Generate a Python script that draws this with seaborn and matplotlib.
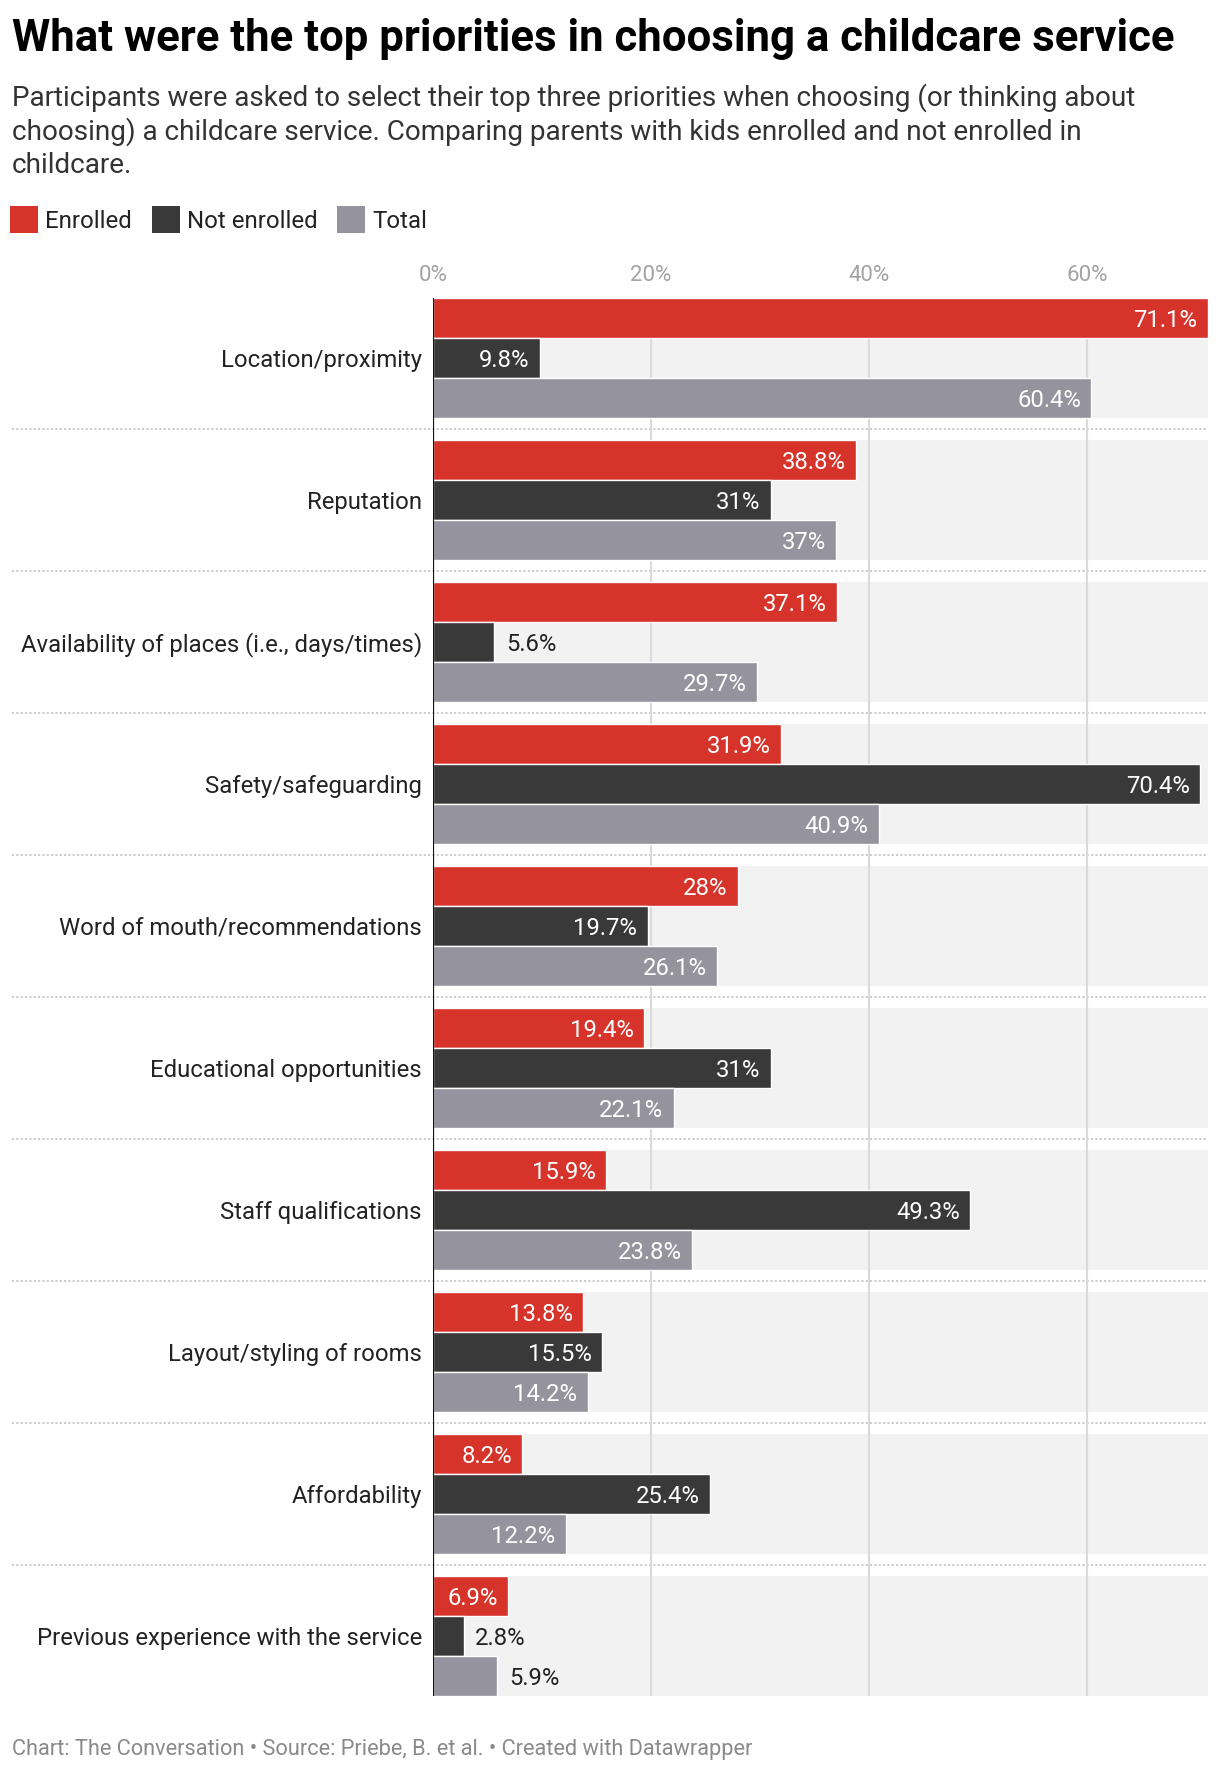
import matplotlib
matplotlib.use('Agg')
import matplotlib.pyplot as plt
from matplotlib.patches import Rectangle
import pandas as pd
import seaborn as sns

categories = ['Location/proximity', 'Reputation', 'Availability of places (i.e., days/times)',
              'Safety/safeguarding', 'Word of mouth/recommendations', 'Educational opportunities',
              'Staff qualifications', 'Layout/styling of rooms', 'Affordability',
              'Previous experience with the service']
enrolled = [71.1, 38.8, 37.1, 31.9, 28, 19.4, 15.9, 13.8, 8.2, 6.9]
not_enrolled = [9.8, 31, 5.6, 70.4, 19.7, 31, 49.3, 15.5, 25.4, 2.8]
total = [60.4, 37, 29.7, 40.9, 26.1, 22.1, 23.8, 14.2, 12.2, 5.9]
series = ['Enrolled', 'Not enrolled', 'Total']
colors = ['#d6342b', '#393939', '#94939e']
ticks = [0, 20, 40, 60]

df = pd.DataFrame({
    'category': categories * 3,
    'group': [s for s in series for _ in categories],
    'value': enrolled + not_enrolled + total,
})

sns.set_style('white')
plt.rcParams['font.family'] = ['Roboto', 'DejaVu Sans']

W, H = 1220, 1772
fig = plt.figure(figsize=(W / 100, H / 100), dpi=100)
ax = fig.add_axes([433 / W, 1 - 1696 / H, (1208 - 433) / W, (1696 - 298) / H])

band = 0.845
sns.barplot(data=df, x='value', y='category', hue='group', palette=colors,
            width=band, orient='h', ax=ax, legend=False, saturation=1, zorder=3)

n = len(categories)
ax.set_ylim(n - 1 + band / 2, -band / 2)
ax.set_xlim(0, max(enrolled + not_enrolled + total))

# grey bands behind each group, dotted separators between them
for i in range(n):
    ax.axhspan(i - band / 2, i + band / 2, color='#f2f2f2', zorder=0, lw=0)
for i in range(n - 1):
    ax.plot([-(433 - 12) / (1208 - 433), 1], [i + 0.5, i + 0.5],
            transform=ax.get_yaxis_transform(), color='#c8c8c8', lw=1.3,
            ls=(0, (1.2, 1.2)), clip_on=False, zorder=1)
for t in ticks[1:]:
    ax.axvline(t, color='#dadada', lw=1.5, zorder=1)
ax.axvline(0, color='#111111', lw=1.6, zorder=4)

for sp in ax.spines.values():
    sp.set_visible(False)

ax.xaxis.set_ticks_position('top')
ax.set_xticks(ticks)
ax.set_xticklabels([f'{t}%' for t in ticks])
ax.tick_params(axis='x', length=0, pad=8.5, labelsize=16, labelcolor='#a3a3a3')
ax.tick_params(axis='y', length=0, pad=8, labelsize=17.2, labelcolor='#222222')
ax.set_xlabel('')
ax.set_ylabel('')

# value labels: inside the bar when it fits, outside otherwise
for container in ax.containers:
    for bar in container:
        v = bar.get_width()
        y = bar.get_y() + bar.get_height() / 2
        txt = f'{v:g}%'
        if v > 6.5:
            ax.annotate(txt, (v, y), xytext=(-7.5, 0), textcoords='offset points',
                        ha='right', va='center_baseline', color='white', fontsize=17.2, zorder=5)
        else:
            ax.annotate(txt, (v, y), xytext=(8.5, 0), textcoords='offset points',
                        ha='left', va='center_baseline', color='#222222', fontsize=17.2, zorder=5)

fig.text(12 / W, 1 - 51 / H, 'What were the top priorities in choosing a childcare service',
         fontsize=31.5, fontweight='bold', color='#000000', va='baseline')
sub = ['Participants were asked to select their top three priorities when choosing (or thinking about',
       'choosing) a childcare service. Comparing parents with kids enrolled and not enrolled in',
       'childcare.']
for k, line in enumerate(sub):
    fig.text(12 / W, 1 - (106 + 33.5 * k) / H, line, fontsize=20.1, color='#333333', va='baseline')

lx = [10, 152, 337]
for x0, name, c in zip(lx, series, colors):
    fig.patches.append(Rectangle((x0 / W, 1 - 233 / H), 28 / W, 27 / H,
                                 transform=fig.transFigure, color=c, lw=0))
    fig.text((x0 + 35) / W, 1 - 228 / H, name, fontsize=17.3, color='#222222', va='baseline')

fig.text(12 / W, 1 - 1755 / H,
         'Chart: The Conversation \u2022 Source: Priebe, B. et al. \u2022 Created with Datawrapper',
         fontsize=15.7, color='#8a8a8a', va='baseline')

fig.savefig('out.png', dpi=100, facecolor='white')
